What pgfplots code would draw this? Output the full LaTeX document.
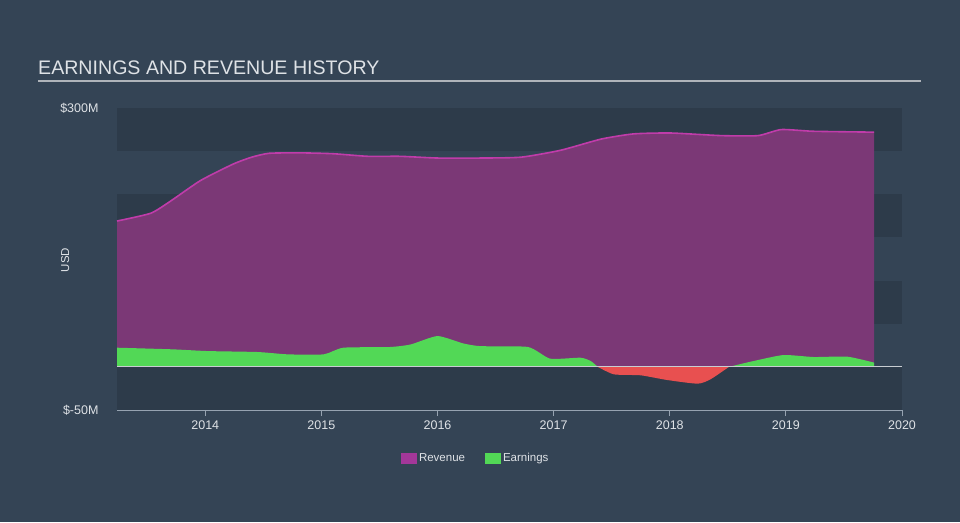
\documentclass[border=0pt]{standalone}
\usepackage{pgfplots}
\usepackage{pgfplotstable}
\pgfplotsset{compat=1.18}
\usepackage{fontspec}
\setmainfont{Liberation Sans}
\definecolor{bg}{RGB}{52,68,85}
\definecolor{band}{RGB}{45,59,74}
\definecolor{revfill}{RGB}{123,56,118}
\definecolor{revline}{RGB}{192,60,170}
\definecolor{revleg}{RGB}{163,55,153}
\definecolor{earn}{RGB}{82,216,86}
\definecolor{loss}{RGB}{232,80,80}
\definecolor{txt}{RGB}{222,226,230}
\definecolor{axl}{RGB}{150,163,177}
\definecolor{zl}{RGB}{200,205,210}
\definecolor{tline}{RGB}{175,180,186}

\pgfplotstableread{
x y
2013.24 169
2013.53 178
2013.70 192
2013.96 216
2014.24 235
2014.40 243
2014.55 247.5
2014.82 248
2015.10 247
2015.40 244
2015.68 244
2016.00 242
2016.37 242
2016.72 243
2017.06 251
2017.41 264
2017.69 270
2018.01 271
2018.44 268
2018.76 268
2018.96 275
2019.24 273
2019.76 272
}\revenue

\pgfplotstableread{
x y
2013.24 22.2
2013.72 20.3
2014.02 18.3
2014.45 17.2
2014.71 14.5
2015.02 14.5
2015.19 22.2
2015.59 23
2015.77 26
2016.00 35.7
2016.22 27.2
2016.37 24
2016.78 23
2016.97 9.5
2017.23 10.6
2017.32 6.7
2017.38 0
}\earnA

\pgfplotstableread{
x y
2017.38 0
2017.52 -8.7
2017.75 -9.8
2017.98 -15.3
2018.24 -19.5
2018.35 -14.5
2018.51 0
}\loss

\pgfplotstableread{
x y
2018.51 0
2018.72 6.7
2018.98 13.7
2019.24 11.4
2019.53 11.8
2019.76 4.9
}\earnB

\begin{document}
\begin{tikzpicture}[x=1pt,y=1pt]
\fill[bg] (0,0) rectangle (960,522);
\node[anchor=base west, text=txt, font=\fontsize{19.6}{22}\selectfont, inner sep=0] at (38,447) {EARNINGS AND REVENUE HISTORY};
\draw[tline, line width=2pt] (38,440.5) -- (921,440.5);
\begin{axis}[
  at={(117pt,112pt)}, anchor=south west, scale only axis,
  width=785pt, height=302pt,
  xmin=2013.24, xmax=2020.0, ymin=-50, ymax=300,
  axis lines*=left,
  y axis line style={draw=none},
  x axis line style={axl, line width=1pt},
  xtick={2014,2015,2016,2017,2018,2019,2020},
  xticklabels={2014,2015,2016,2017,2018,2019,2020},
  xtick style={axl, line width=1pt},
  tick align=outside, major tick length=6pt,
  ytick={-50,300}, yticklabels={\$-50M,\$300M},
  ytick style={draw=none},
  ticklabel style={text=txt, font=\fontsize{12.5}{14}\selectfont},
  yticklabel style={xshift=-9pt},
  xticklabel style={yshift=-1pt},
  ylabel={USD}, ylabel style={at={(axis description cs:-0.066,0.497)}, anchor=center, text=txt, font=\fontsize{11.5}{13}\selectfont},
  legend style={at={(0.457,-0.159)}, anchor=center, draw=none, fill=none, text=txt, font=\fontsize{11.5}{13}\selectfont, legend columns=2, /tikz/every even column/.append style={column sep=18pt}},
  legend image code/.code={\path[draw=none, fill] (0pt,-5.5pt) rectangle (16pt,5.5pt);},
  clip=false,
]
\fill[band] (2013.24,250) rectangle (2020,300);
\fill[band] (2013.24,150) rectangle (2020,200);
\fill[band] (2013.24,50) rectangle (2020,100);
\fill[band] (2013.24,-50) rectangle (2020,0);
\addplot[draw=none, fill=revfill, smooth, tension=0.35, forget plot] table {\revenue} \closedcycle;
\addplot[revline, line width=1.6pt, smooth, tension=0.35, forget plot] table {\revenue};
\addplot[draw=none, fill=earn, smooth, tension=0.35, forget plot] table {\earnA} \closedcycle;
\addplot[draw=none, fill=loss, smooth, tension=0.35, forget plot] table {\loss} \closedcycle;
\addplot[draw=none, fill=earn, smooth, tension=0.35, forget plot] table {\earnB} \closedcycle;
\draw[zl, line width=1.2pt] (2013.24,0) -- (2020,0);
\addlegendimage{draw=none, fill=revleg}
\addlegendentry{Revenue}
\addlegendimage{draw=none, fill=earn}
\addlegendentry{Earnings}
\end{axis}
\end{tikzpicture}
\end{document}
